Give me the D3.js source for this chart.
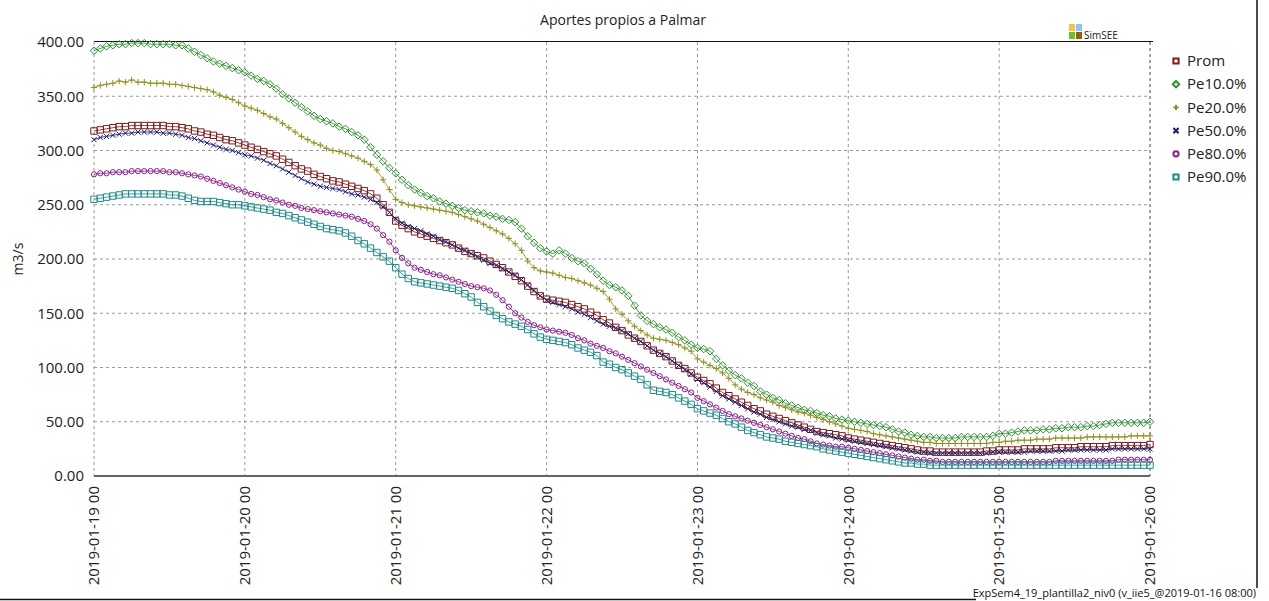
<!DOCTYPE html>
<html>
<head>
<meta charset="utf-8">
<script src="https://cdn.jsdelivr.net/npm/d3@7"></script>
<style>
  html, body { margin: 0; padding: 0; background: #fff; }
  svg { display: block; font-family: "Open Sans", "Noto Sans", sans-serif; }
</style>
</head>
<body>
<svg id="chart" width="1269" height="601"></svg>
<script>
// ---------------- DATA ----------------
const title = "Aportes propios a Palmar";
const yLabel = "m3/s";
const footer = "ExpSem4_19_plantilla2_niv0 (v_iie5_@2019-01-16 08:00)";
const xTickLabels = ["2019-01-19 00","2019-01-20 00","2019-01-21 00","2019-01-22 00","2019-01-23 00","2019-01-24 00","2019-01-25 00","2019-01-26 00"];
const yTicks = [0, 50, 100, 150, 200, 250, 300, 350, 400];
const hoursPerTick = 24;
const seriesNames = ["Prom", "Pe10.0%", "Pe20.0%", "Pe50.0%", "Pe80.0%", "Pe90.0%"];

const prom = [
 318,319,320,321,322,322,323,323,323,323,323,323,322,322,321,320,318,317,315,314,312,310,309,307,
 305,303,301,299,297,295,292,289,286,283,281,278,276,274,272,271,269,267,265,263,260,256,250,243,
 235,231,228,225,223,221,219,217,215,213,210,207,205,203,201,198,195,192,188,184,180,175,170,166,
 163,162,161,160,158,156,154,151,148,144,141,137,134,130,127,124,120,116,113,110,106,102,99,95,
 91,88,85,81,77,74,71,68,65,62,60,57,55,53,51,49,47,45,43,41,40,39,38,37,
 35,34,33,32,31,30,29,28,27,26,25,24,23,23,22,22,22,22,22,22,22,22,23,23,
 24,24,24,24,25,25,25,25,25,26,26,26,26,27,27,27,27,27,28,28,28,28,28,28,29];
const pe10 = [
 392,394,396,397,398,398,399,399,399,398,398,398,398,397,397,394,391,388,385,382,380,378,376,374,
 372,369,366,364,361,357,352,348,344,340,336,332,329,327,325,322,320,317,314,310,303,296,290,284,
 279,273,268,264,261,258,256,253,251,249,247,245,244,243,242,240,239,237,236,234,228,221,215,210,
 207,205,208,205,201,198,196,191,186,180,176,174,171,166,157,148,143,140,137,135,132,128,125,121,
 118,117,115,108,102,97,93,90,86,83,78,75,72,70,67,65,63,61,60,58,56,55,53,52,
 51,50,49,48,47,46,45,43,41,40,38,37,36,36,35,35,35,35,36,36,36,36,36,37,
 39,39,40,41,42,42,42,43,43,44,44,45,45,45,46,46,47,48,49,49,49,49,49,49,50];
const pe20 = [
 358,360,361,362,364,363,365,363,363,362,362,362,361,361,360,359,358,357,356,354,351,349,347,344,
 341,339,337,334,331,329,325,321,317,313,310,307,305,302,300,299,297,295,293,290,287,282,273,264,
 255,252,250,249,248,247,246,245,244,243,241,239,237,235,232,229,226,223,219,214,208,198,192,189,
 188,187,185,183,182,180,178,176,173,170,163,154,149,143,138,134,130,127,126,125,123,121,118,115,
 108,105,102,99,95,90,84,80,77,75,72,70,68,65,63,61,59,58,56,54,52,50,48,46,
 44,43,42,41,39,38,37,36,35,34,33,32,31,31,30,30,30,30,30,30,30,30,30,31,
 31,32,32,33,33,33,34,34,34,35,35,35,35,35,36,36,36,36,36,36,36,37,37,37,37];
const pe50 = [
 310,312,313,314,315,316,316,317,317,317,317,316,316,315,314,312,311,309,307,305,303,301,300,298,
 296,295,293,291,288,286,283,280,277,274,271,269,267,266,265,264,262,260,259,257,255,252,248,243,
 237,233,230,228,226,223,221,218,216,213,210,208,205,202,199,196,194,191,188,185,181,176,171,166,
 162,160,158,156,154,151,149,146,143,140,138,136,134,131,127,124,120,116,113,110,106,102,98,94,
 89,86,82,78,74,71,68,65,62,59,57,54,52,50,48,46,45,43,42,40,38,37,35,34,
 33,32,31,30,29,28,27,26,25,24,23,22,22,21,21,21,21,21,21,21,21,21,21,22,
 22,22,22,22,22,23,23,23,23,23,23,24,24,24,24,24,24,24,25,25,25,25,25,25,25];
const pe80 = [
 278,279,279,280,280,280,281,281,281,281,281,281,280,280,279,278,277,276,274,272,270,268,266,264,
 262,260,259,257,255,254,252,250,249,247,246,245,244,243,242,241,240,239,237,235,232,228,222,216,
 208,201,196,192,190,188,186,185,183,181,179,177,175,174,173,171,167,162,156,150,146,142,139,137,
 135,134,133,132,130,127,125,122,120,118,115,113,110,107,104,101,98,95,92,89,86,83,80,77,
 72,69,66,63,60,57,55,53,51,49,47,45,43,41,39,37,35,34,32,30,29,28,27,27,
 26,25,24,23,22,21,20,19,18,17,16,15,15,14,14,13,13,13,13,13,13,13,13,13,
 13,13,13,13,13,13,13,13,13,14,14,14,14,14,14,14,14,14,14,15,15,15,15,15,15];
const pe90 = [
 255,256,257,258,259,260,260,260,260,260,260,260,259,259,258,256,254,253,253,253,252,251,250,250,
 249,248,247,246,245,243,242,240,238,236,234,232,230,228,227,226,224,221,217,214,210,206,202,198,
 192,186,182,179,178,177,176,175,174,173,171,168,165,160,156,152,148,145,142,140,138,135,131,128,
 126,125,124,123,121,118,116,114,111,105,103,100,98,95,92,89,84,79,78,77,75,72,69,66,
 62,60,58,56,53,50,48,45,42,40,38,36,35,34,32,31,30,29,28,27,25,24,23,22,
 21,20,19,18,17,16,15,14,13,12,12,11,11,10,10,10,10,10,10,10,10,10,10,10,
 10,10,10,10,10,10,10,10,10,10,10,10,10,10,10,10,10,10,10,10,10,10,10,10,10];

const seriesValues = [prom, pe10, pe20, pe50, pe80, pe90];

// ---------------- STYLE ----------------
const colors = ["#7d1c1c", "#2f8f2f", "#8f8f1f", "#1d1d6b", "#8a1f8a", "#1f8a8a"];
const shapes = ["square", "diamond", "plus", "x", "circle", "square"];

const W = 1269, H = 601;
const margin = {left: 94, top: 42, right: 119, bottom: 125};
const pw = W - margin.left - margin.right;   // 1056
const ph = H - margin.top - margin.bottom;   // 434

const svg = d3.select("#chart");
const nPts = prom.length;
const x = d3.scaleLinear().domain([0, (xTickLabels.length - 1) * hoursPerTick]).range([margin.left, margin.left + pw]);
const y = d3.scaleLinear().domain([0, 400]).range([margin.top + ph, margin.top]);

function markerPath(shape, s) {
  switch (shape) {
    case "square": return `M${-s},${-s}H${s}V${s}H${-s}Z`;
    case "diamond": return `M0,${-s*1.25}L${s*1.25},0L0,${s*1.25}L${-s*1.25},0Z`;
    case "plus": return `M${-s},0H${s}M0,${-s}V${s}`;
    case "x": return `M${-s},${-s}L${s},${s}M${-s},${s}L${s},${-s}`;
    case "circle": return `M${-s},0A${s},${s} 0 1,0 ${s},0A${s},${s} 0 1,0 ${-s},0Z`;
  }
}
const markerSize = {square: 3.2, diamond: 3, plus: 3.2, x: 2.6, circle: 2.6};

// gridlines
const grid = svg.append("g");
grid.selectAll("line.h").data(yTicks.filter(v => v > 0 && v < 400)).join("line")
  .attr("x1", margin.left).attr("x2", margin.left + pw)
  .attr("y1", d => y(d)).attr("y2", d => y(d))
  .attr("stroke", "#9a9a9a").attr("stroke-dasharray", "3,3").attr("stroke-width", 1);
grid.selectAll("line.v").data(d3.range(xTickLabels.length)).join("line")
  .attr("x1", d => x(d * hoursPerTick)).attr("x2", d => x(d * hoursPerTick))
  .attr("y1", margin.top).attr("y2", margin.top + ph)
  .attr("stroke", d => d === xTickLabels.length - 1 ? "#444" : "#9a9a9a")
  .attr("stroke-dasharray", "3,3").attr("stroke-width", 1);

// top border line
svg.append("line").attr("x1", margin.left).attr("x2", margin.left + pw + 3)
  .attr("y1", margin.top - 0.5).attr("y2", margin.top - 0.5)
  .attr("stroke", "#111").attr("stroke-width", 1.2);

// series
const plot = svg.append("g");
seriesValues.forEach((vals, i) => {
  const line = d3.line().x((d, j) => x(j)).y(d => y(d));
  plot.append("path").datum(vals).attr("d", line)
    .attr("fill", "none").attr("stroke", colors[i]).attr("stroke-width", 1).attr("opacity", 0.85);
  plot.append("g").selectAll("path").data(vals).join("path")
    .attr("transform", (d, j) => `translate(${x(j)},${y(d)})`)
    .attr("d", markerPath(shapes[i], markerSize[shapes[i]]))
    .attr("fill", "none").attr("stroke", colors[i]).attr("stroke-width", 1);
});

// bottom axis line
svg.append("line").attr("x1", margin.left).attr("x2", margin.left + pw)
  .attr("y1", margin.top + ph).attr("y2", margin.top + ph)
  .attr("stroke", "#666").attr("stroke-width", 2);

// y tick labels
svg.append("g").selectAll("text").data(yTicks).join("text")
  .attr("x", 84).attr("y", d => y(d)).attr("dy", "0.35em")
  .attr("text-anchor", "end").attr("font-size", 15).attr("fill", "#222")
  .text(d => d3.format(".2f")(d));

// x tick labels (rotated)
svg.append("g").selectAll("text").data(xTickLabels).join("text")
  .attr("transform", (d, i) => `translate(${x(i * hoursPerTick)},${margin.top + ph + 10}) rotate(-90)`)
  .attr("text-anchor", "end").attr("dy", "0.35em")
  .attr("font-size", 15).attr("fill", "#222")
  .text(d => d);

// title
svg.append("text").attr("x", 623).attr("y", 25).attr("text-anchor", "middle")
  .attr("font-size", 14).attr("fill", "#222").text(title);

// y label
svg.append("text").attr("transform", `translate(23,${margin.top + ph / 2}) rotate(-90)`)
  .attr("text-anchor", "middle").attr("font-size", 14).attr("fill", "#222").text(yLabel);

// legend
const legend = svg.append("g");
seriesNames.forEach((name, i) => {
  const ly = 61 + i * 23.2;
  legend.append("path").attr("transform", `translate(1176,${ly})`)
    .attr("d", markerPath(shapes[i], 2.6)).attr("fill", "none")
    .attr("stroke", colors[i]).attr("stroke-width", 2);
  legend.append("text").attr("x", 1187).attr("y", ly).attr("dy", "0.35em")
    .attr("font-size", 15).attr("fill", "#222").text(name);
});

// SimSEE logo
const logo = svg.append("g");
const logoCols = [["#f5c542", "#8fc3f0"], ["#6fbf2a", "#8a6212"]];
logoCols.forEach((row, r) => row.forEach((c, k) => {
  logo.append("rect").attr("x", 1069 + k * 7).attr("y", 24 + r * 8).attr("width", 6).attr("height", 7).attr("fill", c);
}));
logo.append("text").attr("x", 1084).attr("y", 39).attr("font-size", 10).attr("fill", "#222").text("SimSEE");

// figure borders
svg.append("line").attr("x1", 1257).attr("x2", 1257).attr("y1", 0).attr("y2", 588).attr("stroke", "#111").attr("stroke-width", 1.5);
svg.append("line").attr("x1", 0).attr("x2", 976).attr("y1", 599.5).attr("y2", 599.5).attr("stroke", "#111").attr("stroke-width", 1.5);

// footer
svg.append("text").attr("x", 1256).attr("y", 597).attr("text-anchor", "end")
  .attr("font-size", 11).attr("fill", "#111").text(footer);
</script>
</body>
</html>
